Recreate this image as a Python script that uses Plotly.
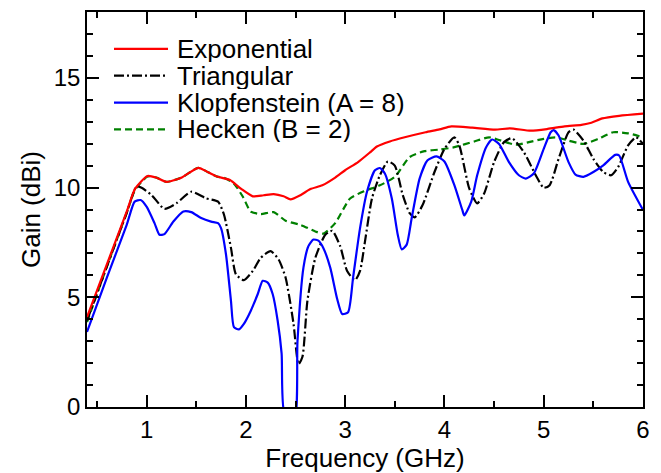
import plotly.graph_objects as go

# ---------------- data ----------------
exp_f = [0.4, 0.6, 0.8, 0.885, 1.01, 1.1, 1.2, 1.35, 1.52, 1.62, 1.71, 1.84, 1.95, 2.07, 2.18,
         2.28, 2.38, 2.45, 2.55, 2.65, 2.77, 2.9, 3.0, 3.13, 3.25, 3.32, 3.45, 3.6, 3.81, 3.95,
         4.07, 4.28, 4.51, 4.66, 4.87, 5.04, 5.21, 5.38, 5.48, 5.59, 5.76, 6.0]
exp_g = [4.1, 6.5, 8.9, 9.95, 10.53, 10.45, 10.26, 10.45, 10.9, 10.7, 10.5, 10.34, 9.95, 9.6, 9.65,
         9.7, 9.6, 9.46, 9.65, 9.93, 10.1, 10.45, 10.79, 11.16, 11.6, 11.87, 12.1, 12.29, 12.52, 12.65,
         12.79, 12.73, 12.64, 12.7, 12.59, 12.67, 12.79, 12.86, 12.95, 13.15, 13.27, 13.37]

tri_f = [0.4, 0.6, 0.8, 0.9, 0.95, 1.05, 1.18, 1.3, 1.45, 1.6, 1.72, 1.78, 1.85, 1.9, 1.98, 2.07,
         2.15, 2.25, 2.33, 2.4, 2.48, 2.53, 2.57, 2.62, 2.7, 2.8, 2.87, 2.95, 3.02, 3.1, 3.15, 3.2,
         3.27, 3.35, 3.43, 3.5, 3.58, 3.65, 3.7, 3.78, 3.9, 4.0, 4.1, 4.15, 4.25, 4.33, 4.4, 4.5,
         4.6, 4.68, 4.8, 4.92, 5.0, 5.06, 5.15, 5.25, 5.3, 5.4, 5.5, 5.6, 5.68, 5.75, 5.85, 5.93, 6.0]
tri_g = [3.94, 6.4, 8.85, 10.06, 9.99, 9.66, 9.03, 9.28, 9.81, 9.51, 9.36, 8.76, 7.25, 6.05, 5.78, 6.2,
         6.8, 7.1, 6.72, 5.9, 3.8, 1.95, 2.29, 4.84, 6.8, 7.85, 8.03, 7.33, 6.2, 5.78, 6.2, 7.55,
         9.5, 10.56, 11.19, 11.0, 9.66, 8.83, 8.64, 9.2, 10.71, 11.76, 12.29, 11.92, 9.96, 9.28, 9.73, 11.16,
         12.07, 12.25, 11.61, 10.56, 9.99, 10.11, 11.31, 12.52, 12.64, 12.14, 11.31, 10.71, 10.56, 10.94, 11.92, 12.29, 11.99]

klo_f = [0.4, 0.6, 0.8, 0.88, 0.94, 1.0, 1.08, 1.13, 1.18, 1.27, 1.37, 1.45, 1.55, 1.65, 1.72, 1.75,
         1.8, 1.85, 1.88, 1.93, 1.98, 2.05, 2.12, 2.17, 2.22, 2.27, 2.32, 2.36, 2.39, 2.49, 2.52,
         2.58, 2.63, 2.68, 2.73, 2.78, 2.85, 2.92, 2.97, 3.03, 3.08, 3.15, 3.22, 3.3, 3.35, 3.4, 3.47,
         3.53, 3.57, 3.62, 3.67, 3.75, 3.83, 3.92, 4.0, 4.1, 4.18, 4.2, 4.27, 4.33, 4.42, 4.48, 4.55,
         4.65, 4.75, 4.82, 4.9, 5.0, 5.07, 5.1, 5.15, 5.25, 5.32, 5.4, 5.5, 5.6, 5.72, 5.76, 5.85, 6.0]
klo_g = [3.42, 5.9, 8.3, 9.36, 9.43, 9.13, 8.38, 7.85, 7.88, 8.45, 8.91, 8.88, 8.61, 8.45, 8.38, 8.15,
         6.95, 4.84, 3.64, 3.54, 3.79, 4.39, 5.15, 5.75, 5.67, 5.15, 3.94, 2.44, -0.3, -0.5, 3.0,
         6.35, 7.33, 7.63, 7.58, 7.25, 6.35, 4.92, 4.24, 4.32, 5.9, 8.15, 9.81, 10.79, 10.89, 10.64, 9.5,
         7.85, 7.18, 7.4, 8.6, 10.41, 11.24, 11.42, 11.19, 10.11, 8.98, 8.73, 9.36, 10.56, 11.84, 12.19, 11.99,
         11.16, 10.56, 10.41, 10.64, 11.76, 12.52, 12.62, 12.37, 11.16, 10.59, 10.49, 10.71, 11.01, 11.49, 11.46, 10.26, 8.98]

hec_f = [0.4, 0.6, 0.8, 0.885, 1.01, 1.1, 1.2, 1.35, 1.52, 1.62, 1.71, 1.78, 1.88, 1.97, 2.05, 2.15,
         2.28, 2.4, 2.55, 2.7, 2.78, 2.9, 3.05, 3.2, 3.35, 3.5, 3.65, 3.8, 3.95, 4.1, 4.3, 4.45,
         4.55, 4.72, 4.85, 5.0, 5.12, 5.25, 5.4, 5.55, 5.7, 5.85, 6.0]
hec_g = [3.87, 6.4, 8.85, 9.9, 10.5, 10.45, 10.26, 10.45, 10.9, 10.7, 10.5, 10.45, 10.18, 9.58, 8.9, 8.79,
         8.88, 8.49, 8.3, 8.0, 7.9, 8.38, 9.5, 9.85, 10.1, 10.49, 11.39, 11.66, 11.73, 11.84, 12.1, 12.29,
         12.17, 11.95, 12.07, 12.22, 12.29, 12.14, 11.99, 12.22, 12.52, 12.47, 12.29]

names = ["Exponential", "Triangular", "Klopfenstein (A = 8)", "Hecken (B = 2)"]
colors = ["#ff0000", "#000000", "#0000ff", "#008000"]
dashes = ["solid", "10px,3px,2px,3px", "solid", "7px,4px"]
xs = [exp_f, tri_f, klo_f, hec_f]
ys = [exp_g, tri_g, klo_g, hec_g]
order = [3, 1, 2, 0]  # drawing order (red on top)

FONT = "Arial, Liberation Sans, sans-serif"

fig = go.Figure()
for i in order:
    fig.add_trace(go.Scatter(
        x=xs[i], y=ys[i], mode="lines", name=names[i],
        line=dict(color=colors[i], width=2.2, dash=dashes[i], shape="spline", smoothing=0.6),
        showlegend=False,
    ))

# manual legend (lines + text)
W, H = 661, 473
ml, mr, mt, mb = 87, 18, 10, 66
pw, ph = W - ml - mr, H - mt - mb
def px2paper_x(px):
    return (px - ml) / pw
def px2paper_y(py):
    return (H - mb - py) / ph

leg_rows = [47, 74, 101, 128]
for i, row in enumerate(leg_rows):
    fig.add_shape(type="line", xref="paper", yref="paper",
                  x0=px2paper_x(114), x1=px2paper_x(168),
                  y0=px2paper_y(row), y1=px2paper_y(row),
                  line=dict(color=colors[i], width=2.2, dash=dashes[i]))
    fig.add_annotation(xref="paper", yref="paper", x=px2paper_x(176), y=px2paper_y(row),
                       text=names[i], showarrow=False, xanchor="left", yanchor="middle",
                       height=26, valign="middle", borderpad=0,
                       font=dict(family=FONT, size=26, color="black"))

axis_common = dict(
    showline=True, linecolor="black", linewidth=1.5, mirror="allticks",
    ticks="inside", ticklen=12, tickwidth=1.5, tickcolor="black",
    showgrid=False, zeroline=False,
    tickfont=dict(family=FONT, size=24, color="black"),
)

fig.update_xaxes(range=[0.4, 6], tick0=0, dtick=1,
                 title=dict(text="Frequency (GHz)", font=dict(family=FONT, size=26, color="black"), standoff=2),
                 minor=dict(dtick=0.5, tick0=0, ticks="inside", ticklen=6, tickwidth=1.5, tickcolor="black"),
                 **axis_common)
fig.update_yaxes(range=[0, 18], tickvals=[0, 5, 10, 15],
                 title=dict(text="Gain (dBi)", font=dict(family=FONT, size=26, color="black"), standoff=6),
                 minor=dict(dtick=1, tick0=0, ticks="inside", ticklen=6, tickwidth=1.5, tickcolor="black"),
                 **axis_common)

fig.update_layout(
    width=W, height=H,
    margin=dict(l=ml, r=mr, t=mt, b=mb),
    paper_bgcolor="white", plot_bgcolor="white",
    font=dict(family=FONT, color="black"),
)

fig.write_html("out.html")
